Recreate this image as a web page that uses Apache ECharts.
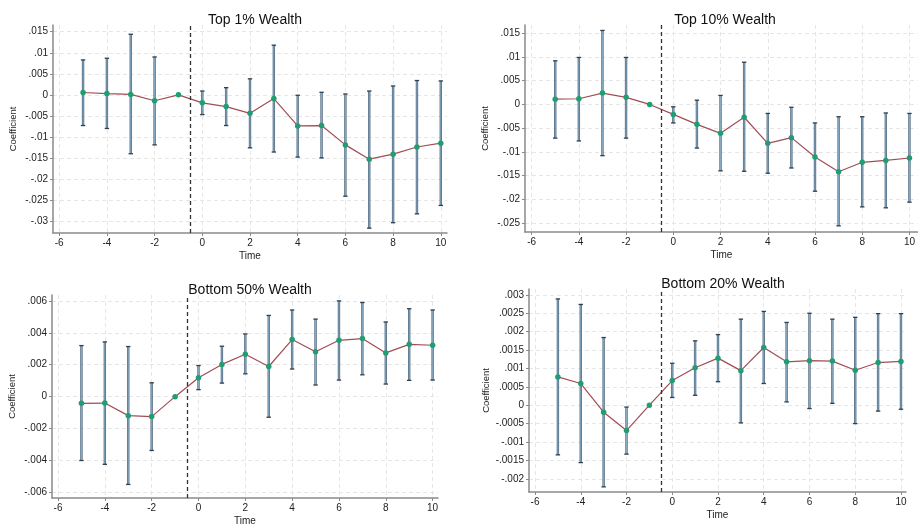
<!DOCTYPE html>
<html>
<head>
<meta charset="utf-8">
<script src="https://cdn.jsdelivr.net/npm/echarts@6/dist/echarts.min.js"></script>
<style>
html,body{margin:0;padding:0;background:#fff;}
#chart{width:918px;height:527px;}
</style>
</head>
<body>
<div id="chart"></div>
<script>
// ---- data ----
const time = [-5,-4,-3,-2,-1,0,1,2,3,4,5,6,7,8,9,10];
const xTicks = [-6,-4,-2,0,2,4,6,8,10];

const titles = ['Top 1% Wealth','Top 10% Wealth','Bottom 50% Wealth','Bottom 20% Wealth'];

const top1Coef = [0.00055,0.0003,0.0001,-0.0014,0,-0.0019,-0.0028,-0.0044,-0.0009,-0.0074,-0.0073,-0.0119,-0.0153,-0.0141,-0.0124,-0.0115];
const top1Lo   = [-0.0073,-0.0080,-0.0140,-0.0119,null,-0.0047,-0.0073,-0.0126,-0.0136,-0.0148,-0.0150,-0.0241,-0.0317,-0.0304,-0.0283,-0.0263];
const top1Hi   = [0.0083,0.0087,0.0144,0.0090,null,0.0009,0.0017,0.0038,0.0118,-0.0001,0.0006,0.0002,0.0009,0.0021,0.0034,0.0033];
const yTicks1  = [-0.03,-0.025,-0.02,-0.015,-0.01,-0.005,0,0.005,0.01,0.015];

const top10Coef = [0.0011,0.0012,0.0024,0.0015,0,-0.0021,-0.0042,-0.0061,-0.0027,-0.0082,-0.0070,-0.0111,-0.0142,-0.0122,-0.0118,-0.0113];
const top10Lo   = [-0.0071,-0.0077,-0.0108,-0.0071,null,-0.0039,-0.0092,-0.0140,-0.0141,-0.0145,-0.0134,-0.0183,-0.0256,-0.0216,-0.0218,-0.0206];
const top10Hi   = [0.0092,0.0099,0.0156,0.0099,null,-0.0005,0.0009,0.0019,0.0089,-0.0019,-0.0006,-0.0039,-0.0026,-0.0026,-0.0018,-0.0019];
const yTicks2   = [-0.025,-0.02,-0.015,-0.01,-0.005,0,0.005,0.01,0.015];

const bot50Coef = [-0.00042,-0.0004,-0.00119,-0.00125,0,0.00118,0.00202,0.00266,0.00189,0.00358,0.00281,0.00353,0.00364,0.00274,0.00328,0.00322];
const bot50Lo   = [-0.0040,-0.00424,-0.0055,-0.00337,null,0.00044,0.00085,0.00143,-0.00129,0.00173,0.00073,0.00104,0.00137,0.00079,0.00102,0.00104];
const bot50Hi   = [0.0032,0.00343,0.00314,0.00087,null,0.00195,0.00316,0.00393,0.00509,0.00543,0.00486,0.0060,0.0059,0.00468,0.00551,0.00543];
const yTicks3   = [-0.006,-0.004,-0.002,0,0.002,0.004,0.006];

const bot20Coef = [0.00077,0.00059,-0.00019,-0.00069,0,0.00067,0.00102,0.00128,0.00094,0.00157,0.00118,0.00121,0.0012,0.00095,0.00116,0.00119];
const bot20Lo   = [-0.00135,-0.00156,-0.00222,-0.00133,null,0.00021,0.00027,0.00064,-0.00048,0.00059,0.00009,-0.00009,0.00005,-0.0005,-0.00016,-0.00011];
const bot20Hi   = [0.00289,0.00274,0.00184,-0.00005,null,0.00114,0.00175,0.00192,0.00234,0.00255,0.00225,0.0025,0.00234,0.00239,0.00249,0.00249];
const yTicks4   = [-0.002,-0.0015,-0.001,-0.0005,0,0.0005,0.001,0.0015,0.002,0.0025,0.003];

const eventLine = -0.5;

// ---- layout ----
const panels = [
  {coef: top1Coef, lo: top1Lo, hi: top1Hi, yTicks: yTicks1,
   grid: {left: 53, top: 25, width: 394, height: 208},
   xMin: -6.26, xMax: 10.26, yMin: -0.03285, yMax: 0.0166, tx: 250, ty: 8},
  {coef: top10Coef, lo: top10Lo, hi: top10Hi, yTicks: yTicks2,
   grid: {left: 525, top: 25, width: 393, height: 207},
   xMin: -6.28, xMax: 10.35, yMin: -0.0269, yMax: 0.01675, tx: 720, ty: 8},
  {coef: bot50Coef, lo: bot50Lo, hi: bot50Hi, yTicks: yTicks3,
   grid: {left: 52, top: 295, width: 386, height: 204},
   xMin: -6.257, xMax: 10.23, yMin: -0.00635, yMax: 0.00637, tx: 245, ty: 278},
  {coef: bot20Coef, lo: bot20Lo, hi: bot20Hi, yTicks: yTicks4,
   grid: {left: 529, top: 289, width: 377, height: 203},
   xMin: -6.263, xMax: 10.22, yMin: -0.00236, yMax: 0.00316, tx: 718, ty: 272}
];

const FONT = 'Liberation Sans, Arial, Helvetica, sans-serif';
const fmtY = v => v === 0 ? '0' : String(v).replace('0.', '.');
const gridLine = {show: true, lineStyle: {color: '#e6e6e6', type: [4, 3], width: 1}};

const option = {
  backgroundColor: '#fff',
  animation: false,
  title: panels.map((p, i) => ({
    text: titles[i], left: p.tx, top: p.ty, textAlign: 'center',
    textStyle: {fontFamily: FONT, fontSize: 14, fontWeight: 'normal', color: '#111'}
  })),
  grid: panels.map(p => Object.assign({containLabel: false}, p.grid)),
  xAxis: panels.map((p, i) => ({
    type: 'value', gridIndex: i, min: p.xMin, max: p.xMax,
    name: 'Time', nameLocation: 'middle', nameGap: 18,
    nameTextStyle: {fontFamily: FONT, fontSize: 10, color: '#222'},
    axisLine: {show: true, onZero: false, lineStyle: {color: '#8a8a8a', width: 1.5}},
    axisTick: {show: true, length: 3, customValues: xTicks, lineStyle: {color: '#8a8a8a'}},
    axisLabel: {customValues: xTicks, margin: 5, fontFamily: FONT, fontSize: 10, color: '#222'},
    splitLine: gridLine
  })),
  yAxis: panels.map((p, i) => ({
    type: 'value', gridIndex: i, min: p.yMin, max: p.yMax,
    name: 'Coefficient', nameLocation: 'middle', nameGap: 35,
    nameTextStyle: {fontFamily: FONT, fontSize: 9.5, color: '#222'},
    axisLine: {show: true, onZero: false, lineStyle: {color: '#8a8a8a', width: 1.5}},
    axisTick: {show: true, length: 3, customValues: p.yTicks, lineStyle: {color: '#8a8a8a'}},
    axisLabel: {customValues: p.yTicks, margin: 5, fontFamily: FONT, fontSize: 10, color: '#222', formatter: fmtY},
    splitLine: gridLine
  })),
  series: []
};

panels.forEach((p, i) => {
  const bars = [];
  time.forEach((t, k) => { if (p.lo[k] !== null) bars.push([t, p.lo[k], p.hi[k]]); });
  option.series.push({
    type: 'custom', xAxisIndex: i, yAxisIndex: i, z: 2,
    data: bars,
    encode: {x: 0, y: [1, 2]},
    renderItem: (params, api) => {
      const x = api.value(0);
      const a = api.coord([x, api.value(1)]);
      const b = api.coord([x, api.value(2)]);
      const cw = 2.2;
      return {
        type: 'group',
        children: [
          {type: 'line', shape: {x1: a[0], y1: a[1], x2: b[0], y2: b[1]},
           style: {stroke: '#4f6c84', lineWidth: 2.4}},
          {type: 'line', shape: {x1: a[0], y1: a[1], x2: b[0], y2: b[1]},
           style: {stroke: '#8fb0c8', lineWidth: 0.9}},
          {type: 'line', shape: {x1: a[0] - cw, y1: a[1], x2: a[0] + cw, y2: a[1]},
           style: {stroke: '#2e3f4e', lineWidth: 1.3}},
          {type: 'line', shape: {x1: b[0] - cw, y1: b[1], x2: b[0] + cw, y2: b[1]},
           style: {stroke: '#2e3f4e', lineWidth: 1.3}}
        ]
      };
    }
  });
  option.series.push({
    type: 'line', xAxisIndex: i, yAxisIndex: i, z: 3,
    data: time.map((t, k) => [t, p.coef[k]]),
    symbol: 'circle', symbolSize: 5.5,
    itemStyle: {color: '#1f9e72'},
    lineStyle: {color: '#a24c55', width: 1.2},
    markLine: {
      silent: true, symbol: 'none', label: {show: false},
      lineStyle: {color: '#333', type: [4, 3], width: 1.3},
      data: [{xAxis: eventLine}]
    }
  });
});

const chart = echarts.init(document.getElementById('chart'), null, {renderer: 'canvas'});
chart.setOption(option);
</script>
</body>
</html>
